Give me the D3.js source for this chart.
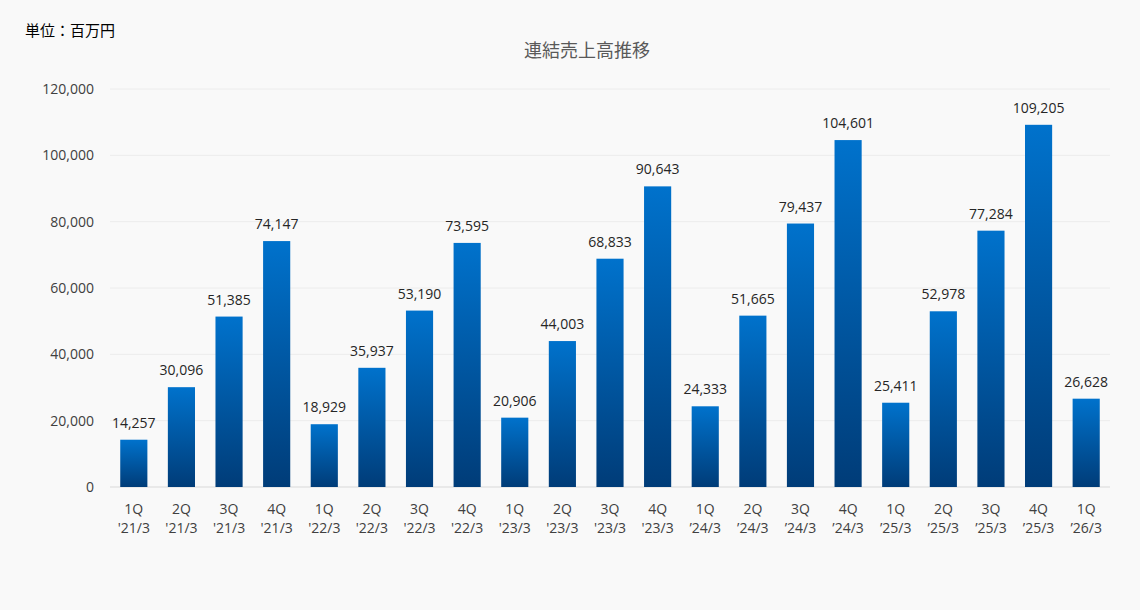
<!DOCTYPE html>
<html><head><meta charset="utf-8">
<script src="https://cdn.jsdelivr.net/npm/d3@7"></script>
<style>body{margin:0;background:#f9f9f9;font-family:"Segoe UI","Open Sans","Noto Sans CJK JP",sans-serif;}</style>
</head><body><svg id="c" width="1140" height="610"></svg>
<script>
const quarters=["1Q","2Q","3Q","4Q","1Q","2Q","3Q","4Q","1Q","2Q","3Q","4Q","1Q","2Q","3Q","4Q","1Q","2Q","3Q","4Q","1Q"];
const years=["'21/3","'21/3","'21/3","'21/3","'22/3","'22/3","'22/3","'22/3","'23/3","'23/3","'23/3","'23/3","’24/3","’24/3","’24/3","’24/3","’25/3","’25/3","’25/3","’25/3","’26/3"];
const values=[14257,30096,51385,74147,18929,35937,53190,73595,20906,44003,68833,90643,24333,51665,79437,104601,25411,52978,77284,109205,26628];
const yTicks=[0,20000,40000,60000,80000,100000,120000];

const svg=d3.select("#c");
svg.append("rect").attr("width",1140).attr("height",610).attr("fill","#f9f9f9");
const defs=svg.append("defs");
const g=defs.append("linearGradient").attr("id","gr").attr("x1",0).attr("x2",0).attr("y1",0).attr("y2",1);
g.append("stop").attr("offset","0%").attr("stop-color","#0072cc");
g.append("stop").attr("offset","100%").attr("stop-color","#003c78");

const x=d3.scaleBand().domain(d3.range(values.length)).range([110,1110]).paddingInner(0.43).paddingOuter(0.215);
const y=d3.scaleLinear().domain([0,120000]).range([487,89]);

svg.append("g").selectAll("line").data(yTicks).join("line")
 .attr("x1",110).attr("x2",1110).attr("y1",d=>y(d)).attr("y2",d=>y(d))
 .attr("stroke",d=>d===0?"#d9d9d9":"#ececec").attr("stroke-width",1);
svg.append("g").selectAll("text").data(yTicks).join("text")
 .attr("x",94).attr("y",d=>y(d)+5).attr("text-anchor","end").attr("font-size",14).attr("fill","#404040")
 .text(d=>d3.format(",")(d));

svg.append("g").selectAll("rect").data(values).join("rect")
 .attr("x",(d,i)=>x(i)).attr("width",x.bandwidth()).attr("y",d=>y(d)).attr("height",d=>y(0)-y(d)).attr("fill","url(#gr)");
svg.append("g").selectAll("text").data(values).join("text")
 .attr("x",(d,i)=>x(i)+x.bandwidth()/2).attr("y",d=>y(d)-12).attr("text-anchor","middle").attr("font-size",14).attr("fill","#262626")
 .text(d=>d3.format(",")(d));

const xl=svg.append("g").selectAll("text").data(values).join("text")
 .attr("text-anchor","middle").attr("font-size",14).attr("fill","#404040");
xl.append("tspan").attr("x",(d,i)=>x(i)+x.bandwidth()/2).attr("y",514).text((d,i)=>quarters[i]);
xl.append("tspan").attr("x",(d,i)=>x(i)+x.bandwidth()/2).attr("y",533).text((d,i)=>years[i]);

svg.append("text").attr("x",587).attr("y",57).attr("text-anchor","middle").attr("font-size",18).attr("fill","#595959").text("連結売上高推移");
svg.append("text").attr("x",25).attr("y",36).attr("font-size",15).attr("fill","#000").text("単位：百万円");
</script></body></html>
